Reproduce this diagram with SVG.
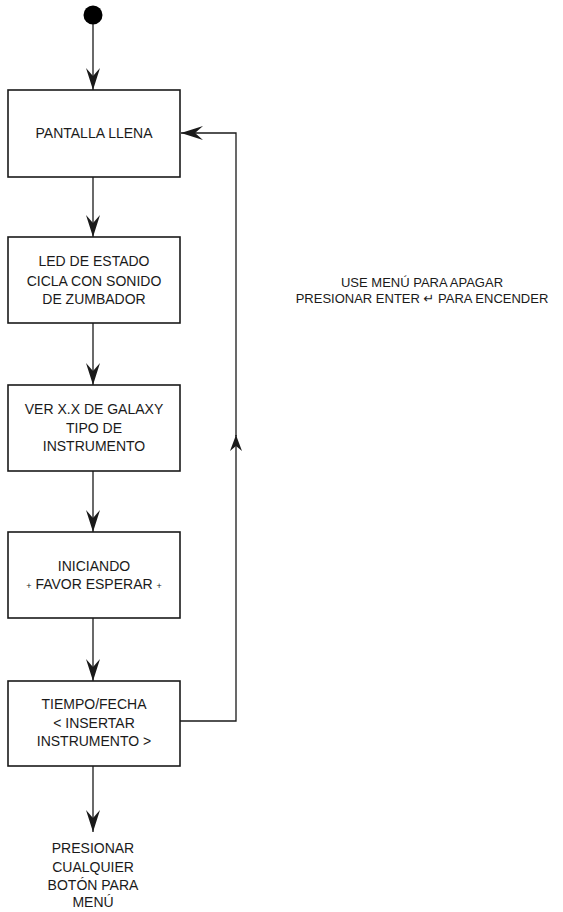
<svg xmlns="http://www.w3.org/2000/svg" width="563" height="912" viewBox="0 0 563 912">
<style>
.box{fill:#fff;stroke:#1a1a1a;stroke-width:1.6}
.t{font-family:"Liberation Sans",Arial,sans-serif;font-size:14px;fill:#1a1a1a;text-anchor:middle}
.s{font-size:9px}
.lbl{font-family:"Liberation Sans",Arial,"DejaVu Sans",sans-serif;font-size:13px;fill:#1a1a1a;text-anchor:middle}
.c{fill:none;stroke:#1a1a1a;stroke-width:1.3}
</style>
<defs>
<marker id="ah" viewBox="-1 -8 24 16" refX="22" refY="0" markerWidth="24" markerHeight="16" markerUnits="userSpaceOnUse" orient="auto">
<path d="M0,-7 L22,0 L0,7 L8,0 Z" fill="#1a1a1a"/>
</marker>
<marker id="ahs" viewBox="-1 -6 18 12" refX="16" refY="0" markerWidth="18" markerHeight="12" markerUnits="userSpaceOnUse" orient="auto">
<path d="M0,-6 L16,0 L0,6 L5,0 Z" fill="#1a1a1a"/>
</marker>
</defs>
<g id="start"><circle cx="93" cy="15" r="9.5" fill="#000"/></g>
<g id="connectors">
<path class="c" d="M93,24 V90" marker-end="url(#ah)"/>
<path class="c" d="M93,177 V237" marker-end="url(#ah)"/>
<path class="c" d="M93,323 V385" marker-end="url(#ah)"/>
<path class="c" d="M93,471 V532" marker-end="url(#ah)"/>
<path class="c" d="M93,618 V681" marker-end="url(#ah)"/>
<path class="c" d="M93,766 V832" marker-end="url(#ah)"/>
<path class="c" d="M180,721 H236 V435" marker-end="url(#ahs)"/>
<path class="c" d="M236,436 V133 H181" marker-end="url(#ah)"/>
</g>
<g id="n1"><rect class="box" x="8" y="90" width="172" height="87"/>
<text class="t" x="94" y="138">PANTALLA LLENA</text></g>
<g id="n2"><rect class="box" x="8" y="237" width="172" height="86"/>
<text class="t" x="94" y="266">LED DE ESTADO</text>
<text class="t" x="94" y="285.5">CICLA CON SONIDO</text>
<text class="t" x="94" y="304">DE ZUMBADOR</text></g>
<g id="n3"><rect class="box" x="8" y="385" width="172" height="86"/>
<text class="t" x="94" y="414">VER X.X DE GALAXY</text>
<text class="t" x="94" y="432.5">TIPO DE</text>
<text class="t" x="94" y="451">INSTRUMENTO</text></g>
<g id="n4"><rect class="box" x="8" y="532" width="172" height="86"/>
<text class="t" x="94" y="571">INICIANDO</text>
<text class="t" x="94" y="589"><tspan class="s">+</tspan> FAVOR ESPERAR <tspan class="s">+</tspan></text></g>
<g id="n5"><rect class="box" x="8" y="681" width="172" height="85"/>
<text class="t" x="94" y="709">TIEMPO/FECHA</text>
<text class="t" x="94" y="727.5">&lt; INSERTAR</text>
<text class="t" x="94" y="746">INSTRUMENTO &gt;</text></g>
<g id="end">
<text class="t" x="93" y="853">PRESIONAR</text>
<text class="t" x="93" y="871.5">CUALQUIER</text>
<text class="t" x="93" y="889.5">BOTÓN PARA</text>
<text class="t" x="93" y="907">MENÚ</text></g>
<g id="label">
<text class="lbl" x="422" y="287">USE MENÚ PARA APAGAR</text>
<text class="lbl" x="422" y="303">PRESIONAR ENTER ↵ PARA ENCENDER</text></g>
</svg>
